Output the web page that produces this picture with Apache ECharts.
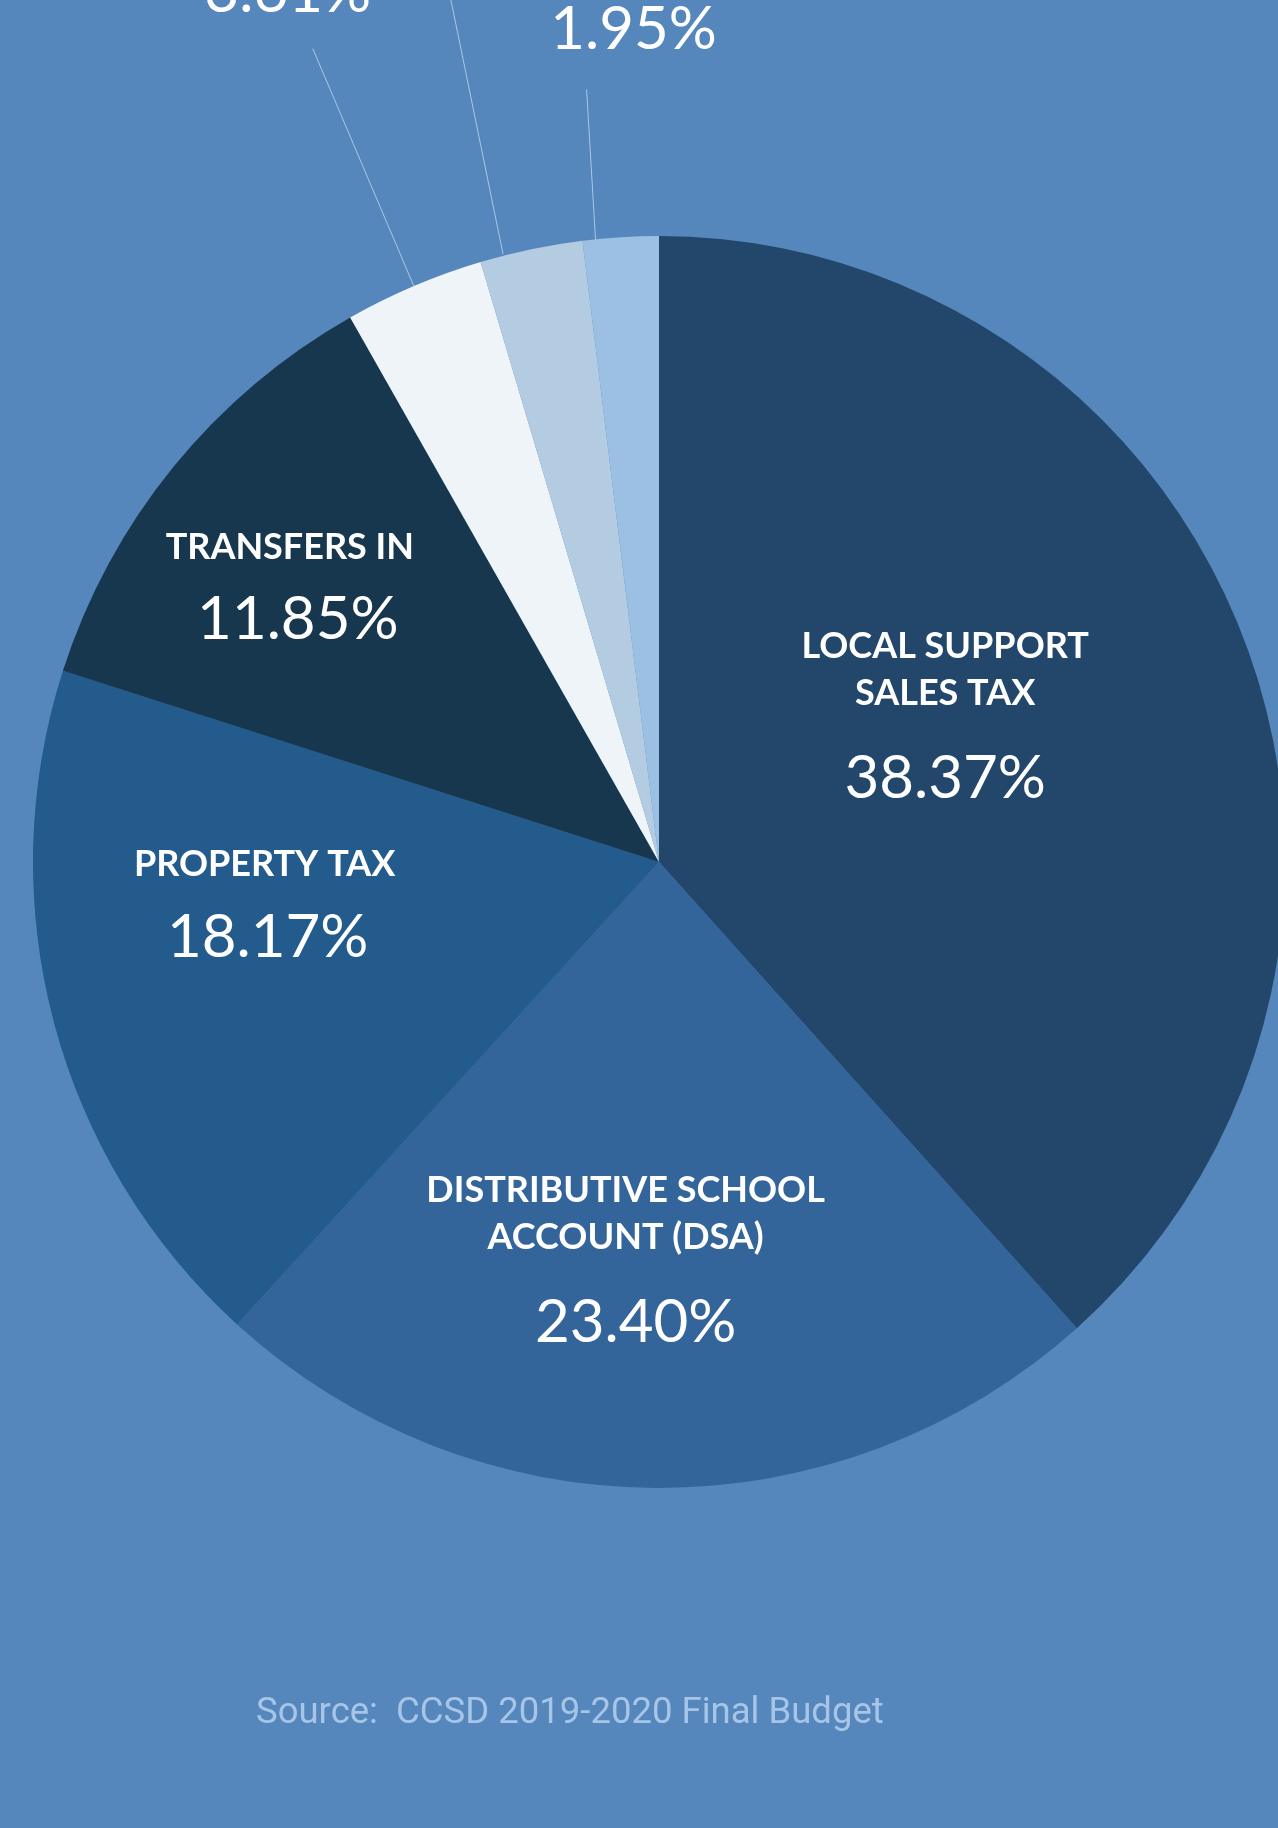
<!DOCTYPE html>
<html>
<head>
<meta charset="utf-8">
<script src="https://cdn.jsdelivr.net/npm/echarts@6/dist/echarts.min.js"></script>
<style>
html,body{margin:0;padding:0;background:#5587bc;}
#chart{width:1278px;height:1828px;}
</style>
</head>
<body>
<div id="chart"></div>
<script>
// ---- data ----
const categories = [
  'LOCAL SUPPORT\nSALES TAX',
  'DISTRIBUTIVE SCHOOL\nACCOUNT (DSA)',
  'PROPERTY TAX',
  'TRANSFERS IN',
  'GOVERNMENTAL\nSERVICES TAX',
  'OTHER LOCAL\nSOURCES',
  'STATE & FEDERAL\nSOURCES'
];
const shares = [38.37, 23.40, 18.17, 11.85, 3.61, 2.65, 1.95];
const sourceNote = 'Source:  CCSD 2019-2020 Final Budget';

// ---- styling / layout config ----
const sliceColors = ['#23476b', '#33659a', '#235b8c', '#17374f', '#eef4f8', '#b4cce2', '#9cc0e3'];
const outsideIdx = [4, 5, 6];
const leaderLength = {4: 258, 5: 300, 6: 148};
const leaderShift = {4: [0, 0], 5: [-28, 5], 6: [-25, 5]};
const labelShift = {
  0: [-9, -17], 1: [-32, 98], 2: [-89, -29], 3: [-124, -66],
  4: [-25, -24], 5: [0, -28], 6: [47, -28]
};
const valueStyleKey = {0: 'w', 1: 'wd', 2: 'vp', 3: 'vt', 4: 'o', 5: 'o', 6: 'o'};

const chart = echarts.init(document.getElementById('chart'), null, {renderer: 'canvas'});

const seriesData = categories.map((name, i) => {
  const outside = outsideIdx.indexOf(i) >= 0;
  return {
    name: name,
    value: shares[i],
    itemStyle: {color: sliceColors[i]},
    label: {position: outside ? 'outside' : 'inside'},
    labelLine: outside ? {
      show: true, length: leaderLength[i], length2: 0, smooth: false,
      lineStyle: {color: '#a9c7e6', width: 1}
    } : {show: false}
  };
});

const valBase = {fontFamily: 'Lato', fontWeight: 'normal', fontSize: 60, color: '#ffffff', align: 'center'};

chart.setOption({
  backgroundColor: '#5587bc',
  animation: false,
  title: {
    text: sourceNote,
    left: 256,
    top: 1695,
    padding: 0,
    textStyle: {color: '#a7c5e7', fontSize: 36.5, fontWeight: 'normal', fontFamily: 'Roboto'}
  },
  series: [{
    type: 'pie',
    center: [659, 862],
    radius: [0, 626],
    startAngle: 90,
    clockwise: true,
    avoidLabelOverlap: false,
    silent: true,
    itemStyle: {borderWidth: 0},
    emphasis: {disabled: true},
    label: {
      show: true,
      color: '#ffffff',
      overflow: 'none',
      fontFamily: 'Lato',
      formatter: function (p) {
        const key = valueStyleKey[p.dataIndex];
        return '{n|' + p.name + '}\n{' + key + '|' + p.value.toFixed(2) + '%}';
      },
      rich: {
        n: {fontFamily: 'Lato', fontWeight: 'bold', fontSize: 36, lineHeight: 47, color: '#ffffff', align: 'center'},
        w: Object.assign({}, valBase, {lineHeight: 125}),
        wd: Object.assign({}, valBase, {lineHeight: 125, padding: [0, 0, 0, 20]}),
        vp: Object.assign({}, valBase, {lineHeight: 99, padding: [0, 0, 0, 6]}),
        vt: Object.assign({}, valBase, {lineHeight: 99, padding: [0, 0, 0, 16]}),
        o: Object.assign({}, valBase, {lineHeight: 64})
      }
    },
    labelLayout: function (p) {
      const i = p.dataIndex;
      const s = labelShift[i];
      if (outsideIdx.indexOf(i) >= 0) {
        const pts = p.labelLinePoints;
        if (!pts || !pts.length) return {};
        const sh = leaderShift[i];
        const moved = pts.map((q, k) => [q[0] + sh[0], q[1] + (k === 0 ? sh[1] : 0)]);
        const end = moved[moved.length - 1];
        return {
          x: end[0] + s[0], y: end[1] + s[1],
          align: 'center', verticalAlign: 'bottom',
          labelLinePoints: moved
        };
      }
      return {dx: s[0], dy: s[1]};
    },
    data: seriesData
  }]
});
</script>
</body>
</html>
